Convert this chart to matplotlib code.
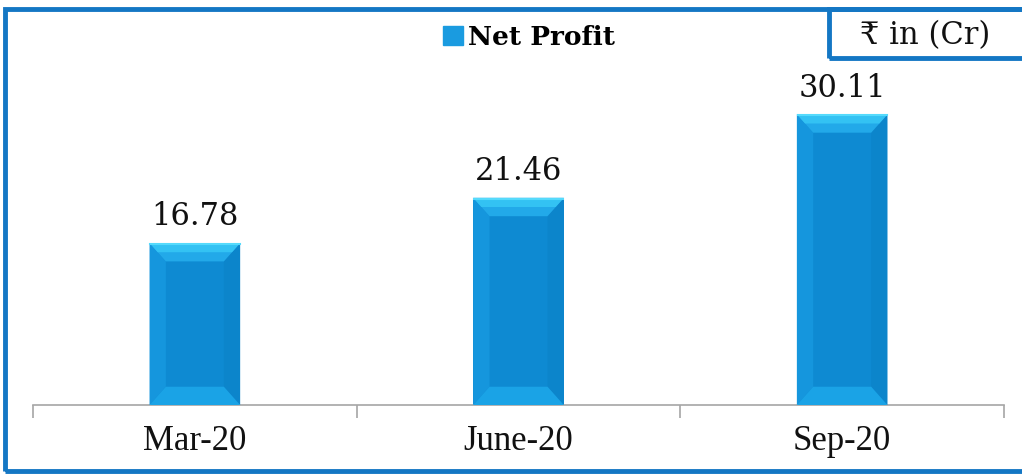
import matplotlib.pyplot as plt
from matplotlib.patches import Polygon, Rectangle

categories = ["Mar-20", "June-20", "Sep-20"]
net_profit = [16.78, 21.46, 30.11]
series_name = "Net Profit"
unit_label = "\u20b9 in (Cr)"

BORDER = "#1477C4"

fig = plt.figure(figsize=(10.22, 4.76), dpi=100)
ax = fig.add_axes([0.0323, 0.149, 0.9501, 0.71])

xs = list(range(len(categories)))
bars = ax.bar(xs, net_profit, width=0.28, color="#0E8AD2", zorder=2)

# bevel effect on every bar, derived from the bar geometry
for b in bars:
    x0, w, h = b.get_x(), b.get_width(), b.get_height()
    d = w * 0.18
    dv = 1.9
    top = [(x0, h), (x0 + w, h), (x0 + w - d, h - dv), (x0 + d, h - dv)]
    bottom = [(x0, 0), (x0 + w, 0), (x0 + w - d, dv), (x0 + d, dv)]
    left = [(x0, 0), (x0, h), (x0 + d, h - dv), (x0 + d, dv)]
    right = [(x0 + w, 0), (x0 + w, h), (x0 + w - d, h - dv), (x0 + w - d, dv)]
    ax.add_patch(Polygon(left, closed=True, color="#1596DD", lw=0, zorder=3))
    ax.add_patch(Polygon(right, closed=True, color="#0C85CB", lw=0, zorder=3))
    ax.add_patch(Polygon(bottom, closed=True, color="#1AA3E6", lw=0, zorder=3))
    ax.add_patch(Polygon(top, closed=True, color="#22A9E9", lw=0, zorder=3))
    # lighter upper half of the top bevel
    top2 = [(x0, h), (x0 + w, h), (x0 + w - d / 2, h - dv / 2), (x0 + d / 2, h - dv / 2)]
    ax.add_patch(Polygon(top2, closed=True, color="#33C2F3", lw=0, zorder=3))
    ax.plot([x0 + 0.002, x0 + w - 0.002], [h - 0.12, h - 0.12], color="#55DAFC", lw=1.5, zorder=4)
    ax.text(x0 + w / 2, h + 1.1, f"{h:.2f}", ha="center", va="bottom",
            fontsize=22, family="DejaVu Serif", color="#111111")

ax.set_xlim(-0.5, len(categories) - 0.5)
ax.set_ylim(0, 35)
ax.set_yticks([])
for s in ["top", "left", "right"]:
    ax.spines[s].set_visible(False)
ax.spines["bottom"].set_color("#A6A6A6")
ax.spines["bottom"].set_linewidth(1.2)

ax.set_xticks(xs)
ax.set_xticklabels(categories, fontsize=25, family="Liberation Serif", color="#111111")
ax.tick_params(axis="x", which="major", length=0, pad=14)
ax.set_xticks([i - 0.5 for i in range(len(categories) + 1)], minor=True)
ax.tick_params(axis="x", which="minor", length=9, color="#A6A6A6", width=1.2)

# legend
handle = Rectangle((0, 0), 1, 1, color="#1A9BE0")
fig.legend([handle], [series_name], loc="center", bbox_to_anchor=(0.518, 0.922),
           frameon=False, handlelength=0.75, handleheight=0.75, handletextpad=0.2,
           prop={"family": "DejaVu Serif", "weight": "bold", "size": 19})

# outer border (runs off the right edge like the source)
fig.add_artist(Rectangle((0.005, 0.01), 1.05, 0.971, transform=fig.transFigure,
                         fill=False, edgecolor=BORDER, lw=3.5, clip_on=False))
# unit box
fig.add_artist(Rectangle((0.811, 0.878), 0.25, 0.103, transform=fig.transFigure,
                         fill=False, edgecolor=BORDER, lw=3.5, clip_on=False))
fig.text(0.905, 0.925, unit_label, ha="center", va="center", fontsize=22,
         family=["DejaVu Serif", "DejaVu Sans"], color="#111111")

fig.savefig("out.png", dpi=100)
